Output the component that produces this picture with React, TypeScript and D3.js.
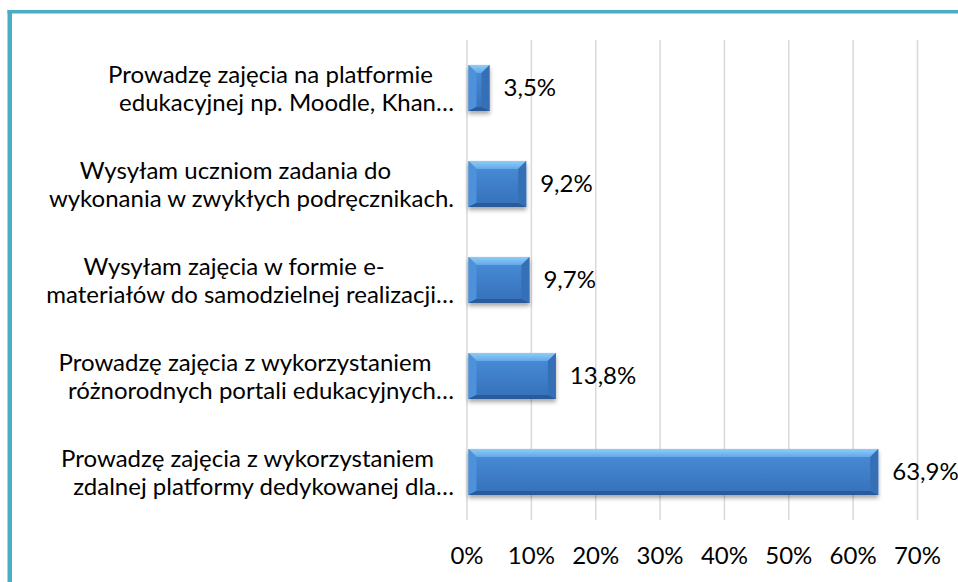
import React, { useEffect, useRef } from "react";
import * as d3 from "d3";

const categories: string[] = [
  "Prowadzę zajęcia na platformie\nedukacyjnej np. Moodle, Khan…",
  "Wysyłam uczniom zadania do\nwykonania w zwykłych podręcznikach.",
  "Wysyłam zajęcia w formie e-\nmateriałów do samodzielnej realizacji…",
  "Prowadzę zajęcia z wykorzystaniem\nróżnorodnych portali edukacyjnych…",
  "Prowadzę zajęcia z wykorzystaniem\nzdalnej platformy dedykowanej dla…",
];
const values: number[] = [0.035, 0.092, 0.097, 0.138, 0.639];
const valueLabels: string[] = ["3,5%", "9,2%", "9,7%", "13,8%", "63,9%"];
const tickValues: number[] = [0, 0.1, 0.2, 0.3, 0.4, 0.5, 0.6, 0.7];
const tickLabels: string[] = ["0%", "10%", "20%", "30%", "40%", "50%", "60%", "70%"];

const W = 958;
const H = 582;
const FONT = "Lato, 'Open Sans', sans-serif";
const FS = 24;

export default function App() {
  const ref = useRef<SVGSVGElement | null>(null);

  useEffect(() => {
    const svg = d3.select(ref.current);
    svg.selectAll("*").remove();

    const defs = svg.append("defs");
    const body = defs.append("linearGradient").attr("id", "bodyG").attr("x1", 0).attr("y1", 0).attr("x2", 0).attr("y2", 1);
    body.append("stop").attr("offset", "0%").attr("stop-color", "#4A8ED8");
    body.append("stop").attr("offset", "100%").attr("stop-color", "#3570BA");
    const top = defs.append("linearGradient").attr("id", "topG").attr("x1", 0).attr("y1", 0).attr("x2", 0).attr("y2", 1);
    top.append("stop").attr("offset", "0%").attr("stop-color", "#8FCDF8");
    top.append("stop").attr("offset", "100%").attr("stop-color", "#62A8EA");
    const f = defs.append("filter").attr("id", "shadow").attr("x", "-20%").attr("y", "-20%").attr("width", "140%").attr("height", "160%");
    f.append("feDropShadow").attr("dx", 0).attr("dy", 3).attr("stdDeviation", 2.2).attr("flood-color", "#000").attr("flood-opacity", 0.35);

    svg.append("rect").attr("width", W).attr("height", H).attr("fill", "#fff");

    // frame
    svg.append("line").attr("x1", 7.5).attr("x2", W).attr("y1", 11.75).attr("y2", 11.75)
      .attr("stroke", "#4BACC6").attr("stroke-width", 3.5);
    svg.append("line").attr("x1", 9.75).attr("x2", 9.75).attr("y1", 10).attr("y2", H)
      .attr("stroke", "#4BACC6").attr("stroke-width", 4.5);

    const x = d3.scaleLinear().domain([0, 0.7]).range([467, 917.5]);
    const y = d3.scaleBand<string>().domain(categories).range([40, 520]).paddingInner(0.52).paddingOuter(0.26);

    // gridlines
    svg.append("g").selectAll("line").data(tickValues).join("line")
      .attr("x1", (d) => x(d)).attr("x2", (d) => x(d))
      .attr("y1", 40).attr("y2", 520)
      .attr("stroke", "#D9D9D9").attr("stroke-width", 1.5);

    // tick labels
    svg.append("g").selectAll("text").data(tickValues).join("text")
      .attr("x", (d) => x(d)).attr("y", 564)
      .attr("text-anchor", "middle")
      .attr("font-family", FONT).attr("font-size", FS).attr("fill", "#000")
      .text((d, i) => tickLabels[i]);

    // bars
    const bars = svg.append("g");
    categories.forEach((c, i) => {
      const x0 = x(0) + 1.5;
      const x1 = x(values[i]);
      const y0 = y(c)!;
      const y1 = y0 + y.bandwidth();
      const b = Math.min(8, (x1 - x0) / 2, (y1 - y0) / 2);
      const bb = Math.min(4, b);
      const g = bars.append("g").attr("filter", "url(#shadow)");
      const poly = (pts: number[][], fill: string) =>
        g.append("polygon").attr("points", pts.map((p) => p.join(",")).join(" ")).attr("fill", fill);
      g.append("rect").attr("x", x0).attr("y", y0).attr("width", x1 - x0).attr("height", y1 - y0).attr("fill", "url(#bodyG)");
      poly([[x0, y0], [x1, y0], [x1 - b, y0 + b], [x0 + b, y0 + b]], "url(#topG)");
      poly([[x0, y0], [x0 + b, y0 + b], [x0 + b, y1 - bb], [x0, y1]], "#4F90DA");
      poly([[x1, y0], [x1, y1], [x1 - b, y1 - bb], [x1 - b, y0 + b]], "#366FB6");
      poly([[x0, y1], [x0 + b, y1 - bb], [x1 - b, y1 - bb], [x1, y1]], "#2A5A98");

      svg.append("text")
        .attr("x", x1 + 14).attr("y", y0 + (y1 - y0) / 2).attr("dy", "0.35em")
        .attr("font-family", FONT).attr("font-size", FS).attr("fill", "#000")
        .text(valueLabels[i]);
    });

    // category labels
    const lab = svg.append("g");
    categories.forEach((c) => {
      const cy = y(c)! + y.bandwidth() / 2;
      const lines = c.split("\n");
      const t2 = lab.append("text").attr("font-family", FONT).attr("font-size", FS).attr("fill", "#000")
        .attr("text-anchor", "end").attr("x", 454).attr("y", cy + 23).text(lines[1]);
      const w2 = (t2.node() as SVGTextElement).getComputedTextLength();
      const center = 454 - w2 / 2 - 16;
      lab.append("text").attr("font-family", FONT).attr("font-size", FS).attr("fill", "#000")
        .attr("text-anchor", "middle").attr("x", center).attr("y", cy - 5).text(lines[0]);
    });
  }, []);

  return (
    <svg ref={ref} width={W} height={H} style={{ position: "absolute", left: 0, top: 0, display: "block" }} />
  );
}
